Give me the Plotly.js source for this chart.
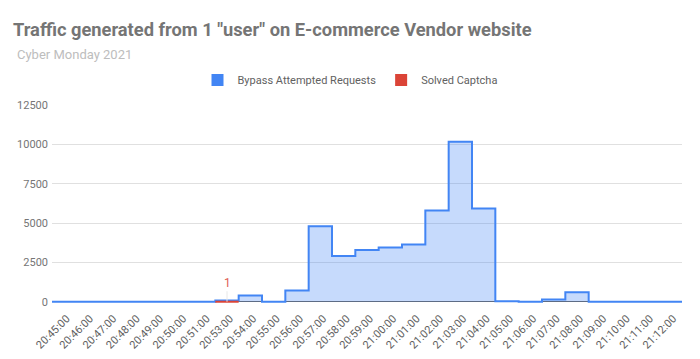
<!DOCTYPE html>
<html>
<head>
<meta charset="utf-8">
<script src="https://cdn.plot.ly/plotly-3.0.1.min.js"></script>
<style>html,body{margin:0;padding:0;background:#fff;}#chart{width:700px;height:359px;}</style>
</head>
<body>
<div id="chart"></div>
<script>
// ---- data ----
var categories = ["20:45:00","20:46:00","20:47:00","20:48:00","20:49:00","20:50:00","20:51:00",
  "20:53:00","20:54:00","20:55:00","20:56:00","20:57:00","20:58:00","20:59:00","21:00:00",
  "21:01:00","21:02:00","21:03:00","21:04:00","21:05:00","21:06:00","21:07:00","21:08:00",
  "21:09:00","21:10:00","21:11:00","21:12:00"];
var bypassAttempted = [0,0,0,0,0,0,0, 80,400,0,720,4800,2900,3280,3450,3630,5800,10170,5930,30,0,150,600,0,0,0,0];
var solvedCaptcha = [null,null,null,null,null,null,null, 1,null,null,null,null,null,null,null,
  null,null,null,null,null,null,null,null,null,null,null,null];
var seriesNames = ["Bypass Attempted Requests", "Solved Captcha"];
var seriesColors = ["#4285f4", "#db4437"];
var yTicks = [0, 2500, 5000, 7500, 10000, 12500];

// stepped-area helpers: each category fills the band [i-0.5, i+0.5]
function stepFull(vals) {
  var x = [], y = [];
  vals.forEach(function (v, i) { x.push(i - 0.5); y.push(v); });
  x.push(vals.length - 0.5); y.push(vals[vals.length - 1]);
  return {x: x, y: y};
}
function stepSparse(vals) {
  var x = [], y = [];
  vals.forEach(function (v, i) {
    if (v === null) return;
    x.push(i - 0.5, i + 0.5, null); y.push(v, v, null);
  });
  return {x: x, y: y};
}
var s1 = stepFull(bypassAttempted);
var s2 = stepSparse(solvedCaptcha);
var idx = categories.map(function (c, i) { return i; });

var traces = [
  {type: 'scatter', mode: 'lines', x: s1.x, y: s1.y, name: seriesNames[0], showlegend: false,
   line: {shape: 'hv', color: seriesColors[0], width: 2}, fill: 'tozeroy',
   fillcolor: 'rgba(66,133,244,0.3)', hoverinfo: 'skip'},
  {type: 'scatter', mode: 'lines', x: s2.x, y: s2.y, name: seriesNames[1], showlegend: false,
   line: {shape: 'hv', color: seriesColors[1], width: 2}, fill: 'tozeroy',
   fillcolor: 'rgba(219,68,55,0.3)', connectgaps: false, hoverinfo: 'skip'},
  // legend entries (square swatches)
  {type: 'bar', x: [null], y: [null], name: seriesNames[0], marker: {color: seriesColors[0]}, showlegend: true},
  {type: 'bar', x: [null], y: [null], name: seriesNames[1], marker: {color: seriesColors[1]}, showlegend: true}
];

var annotations = [];
solvedCaptcha.forEach(function (v, i) {
  if (v === null) return;
  annotations.push({x: i, y: v, xref: 'x', yref: 'y', text: String(v), showarrow: true,
    arrowhead: 0, arrowwidth: 1, arrowcolor: '#e8e8e8', ax: 0, ay: -19,
    font: {family: 'Roboto', size: 12, color: '#e06055'}});
});
annotations.push({text: 'Cyber Monday 2021', xref: 'paper', yref: 'paper', x: 0, y: 1,
  showarrow: false, xanchor: 'left', yanchor: 'middle', xshift: -37, yshift: 51,
  font: {family: 'Roboto', size: 13, color: '#bdbdbd'}});

var layout = {
  width: 700, height: 359,
  margin: {l: 52, r: 18, t: 105, b: 56},
  paper_bgcolor: '#ffffff', plot_bgcolor: '#ffffff',
  font: {family: 'Roboto', color: '#757575'},
  title: {text: '<b>Traffic generated from 1 "user" on E-commerce Vendor website</b>',
    x: 13 / 700, xref: 'container', xanchor: 'left', y: 1 - 30 / 359, yref: 'container', yanchor: 'middle',
    font: {family: 'Roboto', size: 18.3, color: '#757575'}},
  showlegend: true,
  legend: {orientation: 'h', xref: 'container', yref: 'container', x: 0.5, xanchor: 'center',
    y: 1 - 80 / 359, yanchor: 'middle', font: {family: 'Roboto', size: 11, color: '#616161'},
    itemwidth: 30, bgcolor: 'rgba(0,0,0,0)'},
  xaxis: {range: [-0.5, categories.length - 0.5], tickmode: 'array', tickvals: idx, ticktext: categories,
    tickangle: -45, showgrid: false, zeroline: false, showline: false, ticks: '', fixedrange: true,
    ticklabelstandoff: 6, ticklabelshift: 3,
    tickfont: {family: 'Roboto', size: 11, color: '#616161'}},
  yaxis: {range: [-80, 12500], tickmode: 'array', tickvals: yTicks, ticktext: yTicks.map(String),
    showgrid: true, gridcolor: '#e0e0e0', gridwidth: 1, zeroline: true, zerolinecolor: '#666666',
    zerolinewidth: 1, showline: false, ticks: '', fixedrange: true, ticklabelstandoff: 3,
    tickfont: {family: 'Roboto', size: 11, color: '#757575'}},
  annotations: annotations
};

Plotly.newPlot('chart', traces, layout, {displayModeBar: false, staticPlot: true});
</script>
</body>
</html>
